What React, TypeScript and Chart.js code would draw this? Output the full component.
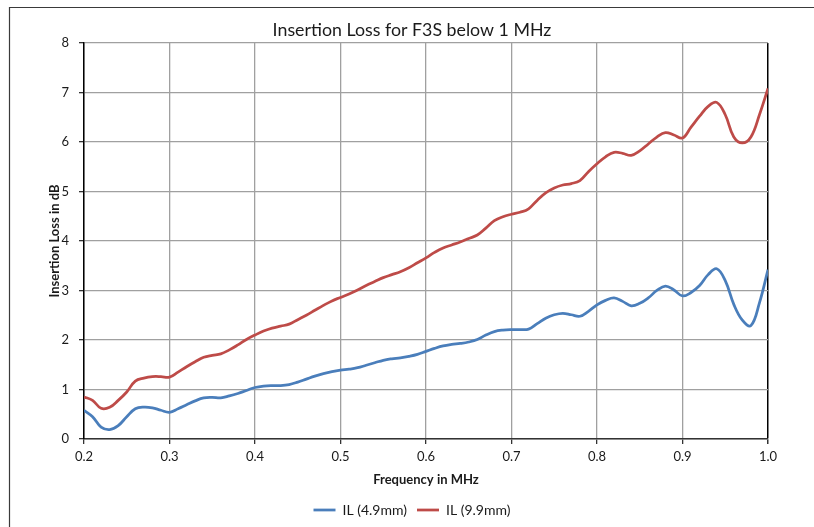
import React, { useEffect, useRef } from "react";
import { Chart, registerables } from "chart.js";

Chart.register(...registerables);

const freqMHz = [
  0.2, 0.21, 0.22, 0.23, 0.24, 0.25, 0.26, 0.27, 0.28, 0.29,
  0.3, 0.31, 0.32, 0.33, 0.34, 0.35, 0.36, 0.37, 0.38, 0.39,
  0.4, 0.41, 0.42, 0.43, 0.44, 0.45, 0.46, 0.47, 0.48, 0.49,
  0.5, 0.51, 0.52, 0.53, 0.54, 0.55, 0.56, 0.57, 0.58, 0.59,
  0.6, 0.61, 0.62, 0.63, 0.64, 0.65, 0.66, 0.67, 0.68, 0.69,
  0.7, 0.71, 0.72, 0.73, 0.74, 0.75, 0.76, 0.77, 0.78, 0.79,
  0.8, 0.81, 0.82, 0.83, 0.84, 0.85, 0.86, 0.87, 0.88, 0.89,
  0.9, 0.91, 0.92, 0.93, 0.94, 0.95, 0.96, 0.97, 0.98, 0.99,
  1.0,
];

const il49mm = [
  0.58, 0.45, 0.24, 0.19, 0.27, 0.45, 0.61, 0.645, 0.63, 0.58,
  0.54, 0.61, 0.69, 0.77, 0.83, 0.84, 0.83, 0.87, 0.92, 0.98,
  1.04, 1.07, 1.08, 1.08, 1.1, 1.15, 1.21, 1.27, 1.32, 1.36,
  1.39, 1.41, 1.44, 1.49, 1.54, 1.59, 1.62, 1.64, 1.67, 1.71,
  1.77, 1.83, 1.88, 1.91, 1.93, 1.96, 2.01, 2.1, 2.17, 2.2,
  2.21, 2.21, 2.22, 2.33, 2.44, 2.51, 2.54, 2.51, 2.48, 2.58,
  2.71, 2.8, 2.85, 2.78, 2.69, 2.74, 2.85, 3.0, 3.09, 3.01,
  2.89, 2.96, 3.1, 3.32, 3.44, 3.2, 2.72, 2.4, 2.29, 2.75,
  3.42,
];

const il99mm = [
  0.85, 0.78, 0.62, 0.64, 0.78, 0.95, 1.17, 1.23, 1.26, 1.26,
  1.25, 1.35, 1.46, 1.56, 1.65, 1.69, 1.72, 1.8, 1.9, 2.01,
  2.1, 2.18, 2.24, 2.28, 2.32, 2.41, 2.5, 2.6, 2.7, 2.79,
  2.86, 2.93, 3.01, 3.1, 3.18, 3.26, 3.32, 3.38, 3.46, 3.56,
  3.66, 3.77, 3.86, 3.92, 3.98, 4.05, 4.12, 4.26, 4.41, 4.49,
  4.54, 4.58, 4.65, 4.82, 4.97, 5.07, 5.13, 5.16, 5.22, 5.4,
  5.56, 5.7, 5.79, 5.77, 5.73, 5.82, 5.96, 6.1, 6.19, 6.14,
  6.08, 6.3, 6.52, 6.72, 6.8, 6.55, 6.1, 5.98, 6.1, 6.55,
  7.08,
];

const seriesNames = ["IL (4.9mm)", "IL (9.9mm)"];
const titleText = "Insertion Loss for F3S below 1 MHz";
const xTitle = "Frequency in MHz";
const yTitle = "Insertion Loss in dB";

const FONT = "Lato, 'Open Sans', sans-serif";

const borderPlugin = {
  id: "outerBorder",
  beforeDraw(chart: any) {
    const ctx = chart.ctx;
    ctx.save();
    ctx.fillStyle = "#ffffff";
    ctx.fillRect(0, 0, chart.width, chart.height);
    ctx.strokeStyle = "#3a3a3a";
    ctx.lineWidth = 1.2;
    ctx.beginPath();
    ctx.moveTo(9.5, chart.height);
    ctx.lineTo(9.5, 7.5);
    ctx.lineTo(chart.width, 7.5);
    ctx.stroke();
    ctx.restore();
  },
};

export default function App() {
  const ref = useRef<HTMLCanvasElement | null>(null);

  useEffect(() => {
    if (!ref.current) return;
    const chart = new Chart(ref.current, {
      type: "line",
      data: {
        datasets: [
          {
            label: seriesNames[0],
            data: freqMHz.map((f, i) => ({ x: f, y: il49mm[i] })),
            borderColor: "#4a7ebb",
            backgroundColor: "#4a7ebb",
            borderWidth: 2.75,
            pointRadius: 0,
            tension: 0.4,
          },
          {
            label: seriesNames[1],
            data: freqMHz.map((f, i) => ({ x: f, y: il99mm[i] })),
            borderColor: "#be4b48",
            backgroundColor: "#be4b48",
            borderWidth: 2.75,
            pointRadius: 0,
            tension: 0.4,
          },
        ],
      },
      options: {
        animation: false,
        responsive: false,
        maintainAspectRatio: false,
        layout: { padding: { left: 10, right: 0, top: 0, bottom: 0 } },
        plugins: {
          title: {
            display: true,
            text: titleText,
            color: "#1a1a1a",
            font: { family: FONT, size: 17.8, weight: "normal", lineHeight: 1.2 },
            padding: { top: 19.5, bottom: 2.1 },
          },
          legend: {
            display: true,
            position: "bottom",
            labels: {
              usePointStyle: true,
              pointStyle: "line",
              pointStyleWidth: 22,
              color: "#1a1a1a",
              font: { family: FONT, size: 14 },
              padding: 10,
            },
          },
          tooltip: { enabled: false },
        },
        scales: {
          x: {
            type: "linear",
            min: 0.2,
            max: 1.0,
            afterFit: (s: any) => {
              s.height = 54;
            },
            ticks: {
              stepSize: 0.1,
              color: "#1a1a1a",
              font: { family: FONT, size: 13 },
              padding: 5,
              maxRotation: 0,
              callback: (v: any) => Number(v).toFixed(1),
            },
            grid: {
              color: (c: any) =>
                c.tick && Math.abs(c.tick.value - 1.0) < 1e-6 ? "#000000" : "#a0a0a0",
              lineWidth: (c: any) =>
                c.tick && Math.abs(c.tick.value - 1.0) < 1e-6 ? 1.5 : 1.3,
              tickLength: 5,
              tickColor: "#333333",
              drawTicks: true,
            },
            border: { color: "#333333", width: 1.5 },
            title: {
              display: true,
              text: xTitle,
              color: "#1a1a1a",
              font: { family: FONT, size: 13, weight: "bold", lineHeight: 1.2 },
              padding: { top: 2, bottom: 5 },
            },
          },
          y: {
            min: 0,
            max: 8,
            afterFit: (s: any) => {
              s.width = 74;
            },
            ticks: {
              stepSize: 1,
              color: "#1a1a1a",
              font: { family: FONT, size: 13 },
              padding: 10,
            },
            grid: {
              color: "#a0a0a0",
              lineWidth: 1.3,
              tickLength: 5,
              tickColor: "#333333",
            },
            border: { color: "#000000", width: 1.5 },
            title: {
              display: true,
              text: yTitle,
              color: "#1a1a1a",
              font: { family: FONT, size: 13, weight: "bold", lineHeight: 1.2 },
              padding: { top: 37, bottom: 0 },
            },
          },
          yRightSpace: {
            type: "linear",
            position: "right",
            display: true,
            afterFit: (s: any) => {
              s.width = 46;
            },
            ticks: { display: false },
            grid: { display: false, drawTicks: false },
            border: { display: false },
            title: { display: false },
          },
        },
      },
      plugins: [borderPlugin],
    } as any);
    return () => chart.destroy();
  }, []);

  return (
    <div style={{ position: "fixed", left: 0, top: 0, width: 814, height: 527 }}>
      <canvas ref={ref} width={814} height={527} style={{ width: 814, height: 527, display: "block" }} />
    </div>
  );
}
